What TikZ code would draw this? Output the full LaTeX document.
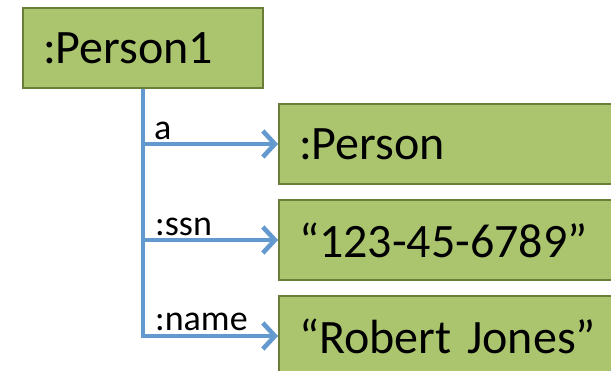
\documentclass[tikz,border=0pt]{standalone}
\usepackage{fontspec}
\setmainfont{Carlito}
\usetikzlibrary{arrows.meta}
\definecolor{boxfill}{HTML}{ABC56E}
\definecolor{boxline}{HTML}{6A7E3A}
\definecolor{linkblue}{HTML}{6399CF}
\begin{document}
\begin{tikzpicture}[x=1pt,y=-1pt,
  objbox/.style={draw=boxline, line width=2pt, fill=boxfill, rectangle,
    anchor=north west, inner xsep=20pt, inner ysep=0pt, align=left,
    minimum height=80pt, font=\fontsize{48}{56}\selectfont},
  link/.style={draw=linkblue, line width=4.6pt},
  linkarrow/.style={link, -{Straight Barb[length=12pt,width=26pt,line width=4.6pt]}},
  lbl/.style={anchor=base west, inner sep=0pt, font=\fontsize{36}{42}\selectfont}]
\useasboundingbox (0,0) rectangle (611,371);
\clip (0,0) rectangle (611,371);
\node[objbox, minimum width=240pt, text width=200pt] (p1) at (22,7) {\raisebox{-2pt}{:Person1}};
\node[objbox, minimum width=360pt, text width=320pt] (pc) at (278,103) {\raisebox{-2pt}{:Person}};
\node[objbox, minimum width=360pt, text width=320pt] (ssn) at (278,199) {“123-45-6789”};
\node[objbox, minimum width=360pt, text width=320pt] (nm) at (278,295) {“Robert Jones”};
\coordinate (bend) at (p1.south |- nm.west);
\draw[link] (p1.south) -- ([yshift=2.3pt]bend);
\draw[linkarrow] (p1.south |- pc.west) -- (pc.west);
\draw[linkarrow] (p1.south |- ssn.west) -- (ssn.west);
\draw[linkarrow] ([xshift=-2.3pt]bend) -- (nm.west);
\node[lbl] (la) at (154,140) {a};
\node[lbl] (lssn) at (155,236) {:ssn};
\node[lbl] (lname) at (155,331) {:name};
\end{tikzpicture}
\end{document}
